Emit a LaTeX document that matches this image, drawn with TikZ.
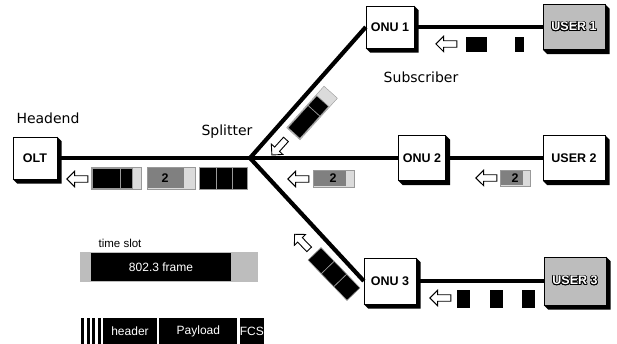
\documentclass[tikz,border=0pt]{standalone}
\usepackage{fontspec}
\setmainfont{Liberation Sans}
\newfontfamily\labelfont{DejaVu Sans}
\usepackage{contour}
\contourlength{0.7pt}
\usetikzlibrary{calc, shapes.arrows, positioning}
\definecolor{boxGray}{gray}{0.74}
\definecolor{pktGray}{gray}{0.5}
\definecolor{pktLight}{gray}{0.86}
\definecolor{edgeGray}{gray}{0.6}
\newcommand{\embossed}[1]{\contour{black}{\textcolor{white}{#1}}}

\begin{document}
\begin{tikzpicture}[x=1pt, y=-1pt,
    unit/.style={draw=black, fill=white, inner sep=0pt,
        font=\bfseries\fontsize{12.5}{13}\selectfont},
    fiber/.style={line width=4.2pt, line join=miter},
    hollow/.style={single arrow, draw=black, line width=0.9pt, fill=white,
        inner sep=2.8pt, minimum height=21pt, single arrow head extend=4.5pt},
    seg/.style={fill=black, draw=edgeGray, line width=0.6pt},
    tag/.style={font=\labelfont\fontsize{14}{16}\selectfont},
    num/.style={font=\bfseries\fontsize{12.5}{13}\selectfont, inner sep=0pt},
    bar/.style={fill=black, text=white, inner sep=0pt,
        font=\fontsize{12}{13}\selectfont}]

    \useasboundingbox (0,0) rectangle (617,344);

    % headend, subscribers and users
    \node[unit, minimum width=44, minimum height=42] (OLT) at (35,158) {OLT};
    \node[unit, minimum width=48, minimum height=42] (ONU1) at (390,27) {ONU 1};
    \node[unit, minimum width=47, minimum height=45] (ONU2) at (422,158) {ONU 2};
    \node[unit, minimum width=52, minimum height=46] (ONU3) at (390,281) {ONU 3};
    \node[unit, fill=boxGray, minimum width=62, minimum height=45] (USER1) at (574,27) {\embossed{USER 1}};
    \node[unit, minimum width=62, minimum height=45] (USER2) at (574,158) {USER 2};
    \node[unit, fill=boxGray, minimum width=62, minimum height=48] (USER3) at (575,281) {\embossed{USER 3}};

    % 3d edge on the right and at the bottom
    \foreach \nd in {OLT,ONU1,ONU2,ONU3,USER1,USER2,USER3}
        \fill (\nd.north east) -- ($(\nd.north east)+(4.5,4.5)$)
            -- ($(\nd.south east)+(4.5,4.5)$) -- ($(\nd.south west)+(4.5,4.5)$)
            -- (\nd.south west) -- (\nd.south east) -- cycle;

    \node[tag] (head) at (48,118) {Headend};
    \node[tag] (splt) at (227,132) {Splitter};
    \node[tag] (subs) at (421,77) {Subscriber};

    % fibre tree
    \coordinate (split) at (250,158);
    \draw[fiber] (OLT) -- (split) -- (ONU2);
    \draw[fiber] (ONU1.west) -- (split) -- (ONU3.west);
    \foreach \k in {1,2,3}
        \draw[fiber] (ONU\k) -- (USER\k);

    % upstream direction
    \node[hollow, rotate=180] (back1) at (79,179) {};
    \node[hollow, rotate=180] (back2) at (300,179) {};
    \node[hollow, rotate=180] (back3) at (488,178) {};
    \node[hollow, rotate=180] (back4) at (448,44) {};
    \node[hollow, rotate=180] (back5) at (442,298) {};
    \node[hollow, rotate=228] (back6) at (280,146) {};
    \node[hollow, rotate=134] (back7) at (303,243) {};

    % frames on the trunk
    \draw[fill=pktLight, draw=edgeGray] (91,167) rectangle (141,189);
    \foreach \a/\b in {92/120, 120/132}
        \draw[seg] (\a,168) rectangle (\b,188);
    \draw[fill=pktLight, draw=edgeGray] (147,167) rectangle (195,189);
    \fill[pktGray] (148,168) rectangle (184,188);
    \node[num] (n1) at (165,178) {2};
    \foreach \a/\b in {199/216, 216/232, 232/247}
        \draw[seg] (\a,167) rectangle (\b,189);

    % frames on the branches
    \draw[fill=pktLight, draw=edgeGray] (313,170) rectangle (354,187);
    \fill[pktGray] (314,171) rectangle (346,186);
    \node[num] (n2) at (333,178.5) {2};
    \draw[fill=pktLight, draw=edgeGray] (500,170) rectangle (530,186);
    \fill[pktGray] (501,171) rectangle (523,185);
    \node[num] (n3) at (515,178) {2};
    \fill (466,37) rectangle (487,52);
    \fill (515,37) rectangle (524,52);
    \foreach \a in {457,490,522}
        \fill (\a,290) rectangle +(13,18);

    \begin{scope}[shift={(312,113)}, rotate=48]
        \draw[fill=pktLight, draw=edgeGray] (-28,-9) rectangle (28,9);
        \foreach \a/\b in {-27/3, 3/16}
            \draw[seg] (\a,-8) rectangle (\b,8);
    \end{scope}
    \begin{scope}[shift={(334,274)}, rotate=-46]
        \foreach \a/\b in {-28/-9, -9/9, 9/28}
            \draw[seg] (\a,-9) rectangle (\b,9);
    \end{scope}

    % frame format
    \node[font=\fontsize{11.5}{13}\selectfont] (slot) at (120,243) {time slot};
    \fill[boxGray] (80,252) rectangle (258,282);
    \node[bar, minimum width=140, minimum height=28] (frame) at (161,267) {802.3 frame};
    \foreach \i in {0,...,3}
        \fill (81+\i*5.5,318) rectangle +(3,26);
    \node[bar, minimum width=54, minimum height=26] (hdr) at (130,331) {header};
    \node[bar, minimum width=78, minimum height=26, right=2pt of hdr] (pay) {Payload};
    \node[bar, minimum width=22, minimum height=26, right=2pt of pay] (fcs) {FCS};
\end{tikzpicture}
\end{document}
